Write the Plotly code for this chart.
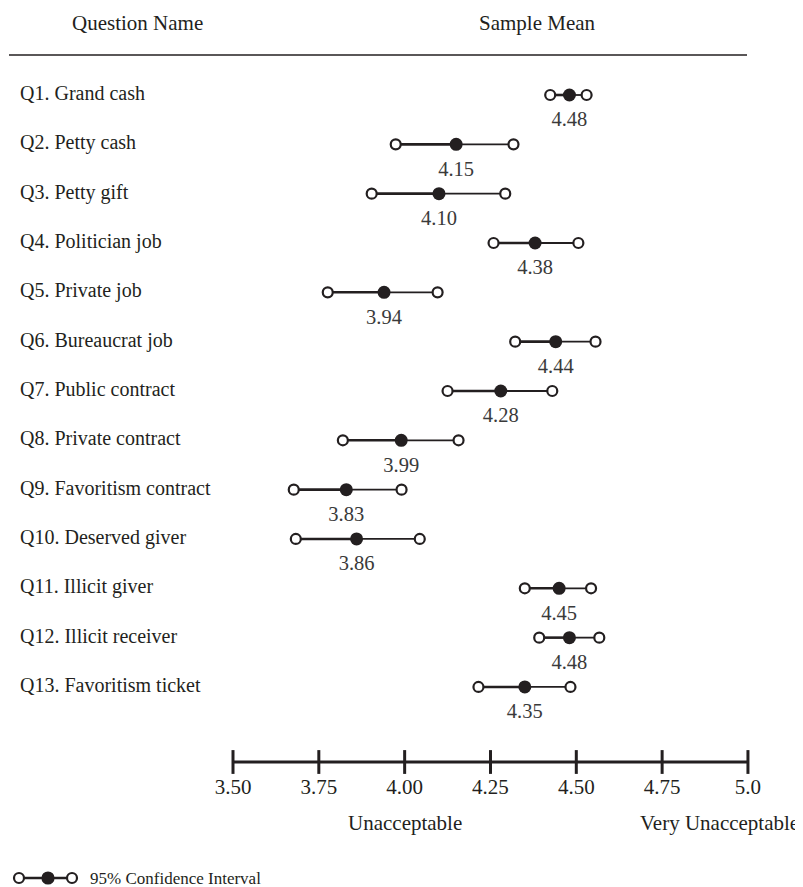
import plotly.graph_objects as go

# ---------------- data ----------------
questions = [
    "Q1. Grand cash", "Q2. Petty cash", "Q3. Petty gift", "Q4. Politician job",
    "Q5. Private job", "Q6. Bureaucrat job", "Q7. Public contract",
    "Q8. Private contract", "Q9. Favoritism contract", "Q10. Deserved giver",
    "Q11. Illicit giver", "Q12. Illicit receiver", "Q13. Favoritism ticket",
]
means = [4.48, 4.15, 4.10, 4.38, 3.94, 4.44, 4.28, 3.99, 3.83, 3.86, 4.45, 4.48, 4.35]
ci_low = [4.424, 3.974, 3.904, 4.259, 3.776, 4.322, 4.125, 3.820, 3.677, 3.683, 4.350, 4.392, 4.215]
ci_high = [4.530, 4.317, 4.293, 4.506, 4.096, 4.556, 4.430, 4.157, 3.991, 4.044, 4.543, 4.567, 4.483]
tick_vals = [3.50, 3.75, 4.00, 4.25, 4.50, 4.75, 5.00]
tick_text = ["3.50", "3.75", "4.00", "4.25", "4.50", "4.75", "5.0"]

# ---------------- layout constants ----------------
OFF = 8                       # page body margin
W, H = 803 - OFF, 887 - OFF   # figure size so it fills the window
PX = 343.3                    # pixels per unit on x
X0_PIX = 233                  # page pixel of 3.50
XMIN = 3.5 - (X0_PIX - OFF) / PX
XMAX = XMIN + W / PX
ROW0, ROWH = 95, 49.33        # page pixel of first row, row spacing
YTOP = -(ROW0 - OFF) / ROWH
YBOT = YTOP + H / ROWH
AXIS_PIX = 762
AXIS_Y = (AXIS_PIX - ROW0) / ROWH
FONT = "Liberation Serif, Times New Roman, serif"
INK = "#231f20"


def pxx(p):
    return (p - OFF) / W


def pxy(p):
    return 1 - (p - OFF) / H


rows = list(range(len(questions)))

fig = go.Figure()

# CI segments: left half (low -> mean) slightly heavier than right half
xl, yl, xr, yr = [], [], [], []
for i, lo, m, hi in zip(rows, ci_low, means, ci_high):
    xl += [lo, m, None]; yl += [i, i, None]
    xr += [m, hi, None]; yr += [i, i, None]
fig.add_trace(go.Scatter(x=xl, y=yl, mode="lines", line=dict(color=INK, width=2.6),
                         hoverinfo="skip", showlegend=False))
fig.add_trace(go.Scatter(x=xr, y=yr, mode="lines", line=dict(color=INK, width=1.8),
                         hoverinfo="skip", showlegend=False))

# CI end points (open circles)
fig.add_trace(go.Scatter(x=ci_low + ci_high, y=rows + rows, mode="markers",
                         marker=dict(symbol="circle", size=10, color="white",
                                     line=dict(color=INK, width=2.2)),
                         showlegend=False))
# means (filled)
fig.add_trace(go.Scatter(x=means, y=rows, mode="markers",
                         marker=dict(symbol="circle", size=13, color=INK,
                                     line=dict(color=INK, width=0)),
                         showlegend=False))
# mean labels
fig.add_trace(go.Scatter(x=means, y=[i + 0.53 for i in rows], mode="text",
                         text=[f"{m:.2f}" for m in means], textposition="middle center",
                         textfont=dict(family=FONT, size=20.5, color="#3a3a3a"),
                         hoverinfo="skip", showlegend=False))
# question names
fig.add_trace(go.Scatter(x=[XMIN + (20 - OFF) / PX] * len(questions), y=rows, mode="text",
                         text=questions, textposition="middle right",
                         textfont=dict(family=FONT, size=20, color=INK),
                         hoverinfo="skip", showlegend=False))

# bottom scale: line from 3.50 to 5.0 with "+" ticks
fig.add_trace(go.Scatter(x=tick_vals, y=[AXIS_Y] * len(tick_vals), mode="lines+markers",
                         line=dict(color=INK, width=3),
                         marker=dict(symbol="line-ns", size=17,
                                     line=dict(color=INK, width=3)),
                         hoverinfo="skip", showlegend=False))

fig.update_layout(
    width=W, height=H,
    margin=dict(l=0, r=0, t=0, b=0),
    paper_bgcolor="white", plot_bgcolor="white",
    xaxis=dict(
        range=[XMIN, XMAX], fixedrange=True,
        anchor="free", position=pxy(AXIS_PIX),
        showline=False, showgrid=False, zeroline=False,
        ticks="outside", ticklen=6, tickcolor="rgba(0,0,0,0)",
        tickvals=tick_vals, ticktext=tick_text,
        tickfont=dict(family=FONT, size=21, color=INK),
    ),
    yaxis=dict(range=[YBOT, YTOP], visible=False, fixedrange=True),
    showlegend=False,
)

# headers
fig.add_annotation(text="Question Name", x=pxx(137), y=pxy(23), xref="paper", yref="paper",
                   xanchor="center", yanchor="middle",
                   showarrow=False, font=dict(family=FONT, size=21, color=INK))
fig.add_annotation(text="Sample Mean", x=pxx(537), y=pxy(23), xref="paper", yref="paper",
                   xanchor="center", yanchor="middle",
                   showarrow=False, font=dict(family=FONT, size=21, color=INK))
fig.add_shape(type="line", xref="paper", yref="paper", x0=pxx(9), x1=pxx(747),
              y0=pxy(55), y1=pxy(55), line=dict(color=INK, width=1.6))

# scale captions
fig.add_annotation(text="Unacceptable", x=4.0, xref="x", y=pxy(823), yref="paper",
                   xanchor="center", yanchor="middle",
                   showarrow=False, font=dict(family=FONT, size=21, color=INK))
fig.add_annotation(text="Very Unacceptable", x=pxx(801), xanchor="right", xref="paper",
                   y=pxy(823), yref="paper", yanchor="middle",
                   showarrow=False, font=dict(family=FONT, size=21, color=INK))

# legend key
LY = pxy(878)
fig.add_shape(type="line", xref="paper", yref="paper", x0=pxx(19), x1=pxx(72), y0=LY, y1=LY,
              line=dict(color=INK, width=2.4))
for cx, filled in [(19, False), (48, True), (72, False)]:
    r = 5.5 if filled else 5
    fig.add_shape(type="circle", xref="paper", yref="paper",
                  x0=pxx(cx - r), x1=pxx(cx + r), y0=LY - r / H, y1=LY + r / H,
                  fillcolor=INK if filled else "white", line=dict(color=INK, width=2.2))
fig.add_annotation(text="95% Confidence Interval", x=pxx(88), xanchor="left", xref="paper",
                   y=LY, yref="paper", yanchor="middle", showarrow=False,
                   font=dict(family=FONT, size=17, color=INK))

fig.write_html("out.html")
